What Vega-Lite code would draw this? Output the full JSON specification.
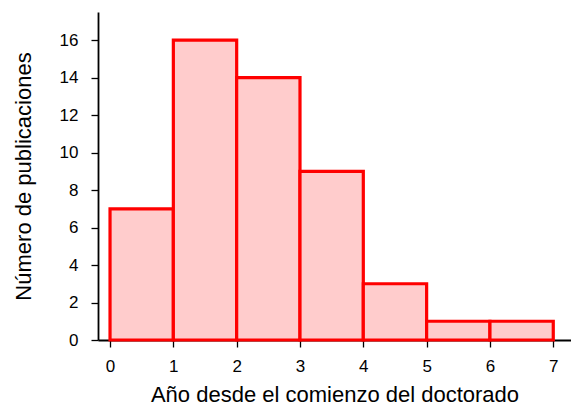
{
  "$schema": "https://vega.github.io/schema/vega-lite/v6.json",
  "width": 473,
  "height": 328,
  "autosize": {"type": "none"},
  "padding": {"left": 98, "top": 12, "right": 0, "bottom": 66},
  "background": "white",
  "config": {
    "view": {"stroke": null},
    "font": "Liberation Sans",
    "axis": {
      "grid": false,
      "domainColor": "black",
      "domainWidth": 1.8,
      "tickColor": "black",
      "tickWidth": 1.3,
      "tickSize": 7,
      "labelFont": "Liberation Sans",
      "labelFontSize": 17,
      "labelColor": "black",
      "titleFont": "Liberation Sans",
      "titleFontSize": 22,
      "titleFontWeight": "normal",
      "titleColor": "black"
    }
  },
  "data": {
    "values": [
      {"start": 0, "end": 1, "count": 7},
      {"start": 1, "end": 2, "count": 16},
      {"start": 2, "end": 3, "count": 14},
      {"start": 3, "end": 4, "count": 9},
      {"start": 4, "end": 5, "count": 3},
      {"start": 5, "end": 6, "count": 1},
      {"start": 6, "end": 7, "count": 1}
    ]
  },
  "mark": {"type": "rect", "fill": "#ffcccc", "stroke": "#ff0000", "strokeWidth": 3.2},
  "encoding": {
    "x": {
      "field": "start",
      "type": "quantitative",
      "scale": {"domain": [-0.19, 7.28], "nice": false, "zero": false},
      "axis": {"values": [0, 1, 2, 3, 4, 5, 6, 7], "title": "Año desde el comienzo del doctorado", "labelPadding": 11, "titlePadding": 10, "labelFlush": false}
    },
    "x2": {"field": "end"},
    "y": {
      "field": "count",
      "type": "quantitative",
      "scale": {"domain": [0, 17.5], "nice": false},
      "axis": {"values": [0, 2, 4, 6, 8, 10, 12, 14, 16], "title": "Número de publicaciones", "labelPadding": 13, "titlePadding": 24, "labelFlush": false}
    },
    "y2": {"datum": 0}
  }
}
